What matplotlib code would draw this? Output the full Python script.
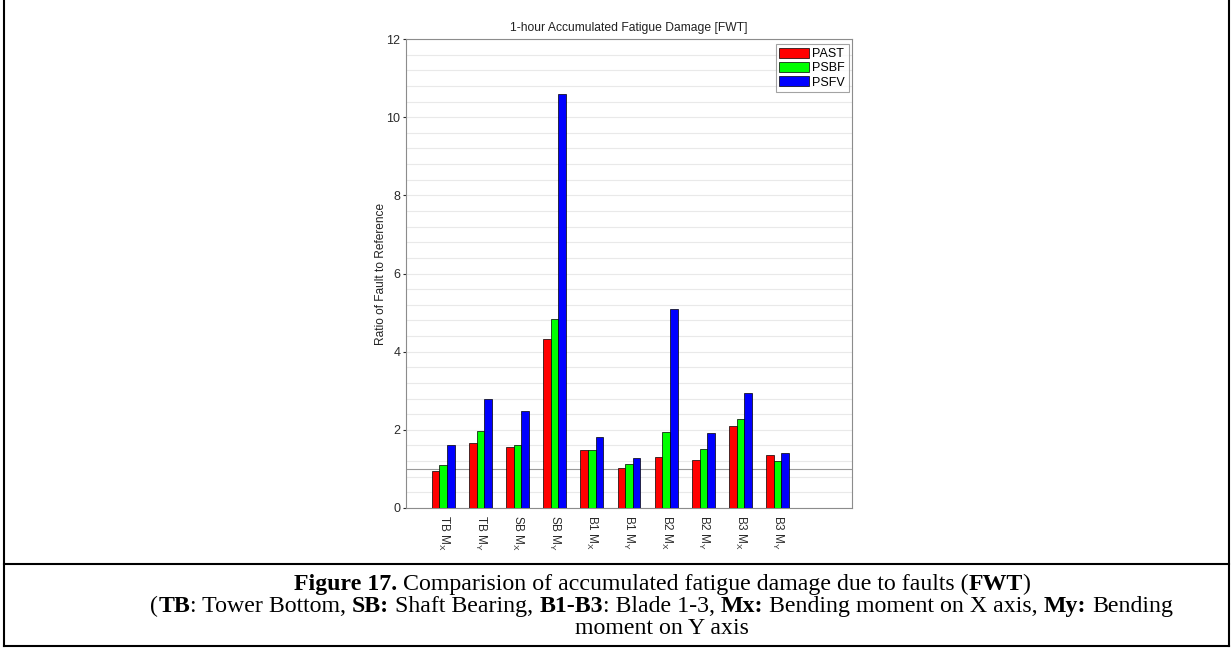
import matplotlib
matplotlib.use("Agg")
import matplotlib.pyplot as plt
import numpy as np
from matplotlib.lines import Line2D
from matplotlib.ticker import MultipleLocator

# ---- data ----
categories = ["TB M$_X$", "TB M$_Y$", "SB M$_X$", "SB M$_Y$", "B1 M$_X$",
              "B1 M$_Y$", "B2 M$_X$", "B2 M$_Y$", "B3 M$_X$", "B3 M$_Y$"]
series_names = ["PAST", "PSBF", "PSFV"]
past = [0.94, 1.67, 1.57, 4.33, 1.49, 1.02, 1.31, 1.24, 2.11, 1.36]
psbf = [1.10, 1.98, 1.60, 4.84, 1.49, 1.13, 1.94, 1.50, 2.27, 1.21]
psfv = [1.61, 2.80, 2.49, 10.58, 1.82, 1.28, 5.10, 1.93, 2.93, 1.42]
y_ticks = [0, 2, 4, 6, 8, 10, 12]
reference_level = 1.0

plt.rcParams["font.family"] = ["Liberation Sans", "DejaVu Sans"]
plt.rcParams["mathtext.default"] = "regular"

W, H = 1232, 648
fig = plt.figure(figsize=(W / 100, H / 100), dpi=100)
fig.patch.set_facecolor("white")

# axes placed in pixel terms
l, r, t, b = 406, 852, 39, 508
ax = fig.add_axes([l / W, 1 - b / H, (r - l) / W, (b - t) / H])

x = np.arange(1, len(categories) + 1)
bw = 0.205
colors = ["#ff0000", "#00ff00", "#0000ff"]
for i, (vals, name, c) in enumerate(zip([past, psbf, psfv], series_names, colors)):
    ax.bar(x + (i - 1) * bw, vals, width=bw, color=c, edgecolor="black",
           linewidth=0.5, label=name, zorder=3)

ax.set_xlim(0, 12)
ax.set_ylim(0, 12)
ax.set_yticks(y_ticks)
ax.yaxis.set_minor_locator(MultipleLocator(0.4))
ax.yaxis.grid(True, which="both", color="#e9e9e9", linewidth=0.8, zorder=0)
ax.set_axisbelow(True)
ax.axhline(reference_level, color="#9a9a9a", linewidth=0.8, zorder=1)

ax.set_xticks(x)
ax.set_xticklabels(categories, rotation=270, fontsize=8.5, va="top", ha="center")
ax.tick_params(axis="x", length=0, pad=5, colors="#2a2a2a")
ax.tick_params(axis="y", which="major", direction="out", length=2, pad=2,
               labelsize=9, colors="#2a2a2a")
ax.tick_params(axis="y", which="minor", length=0)
for s in ax.spines.values():
    s.set_color("#8c8c8c")
    s.set_linewidth(0.8)

ax.set_title("1-hour Accumulated Fatigue Damage [FWT]", fontsize=8.75,
             pad=6, color="#222222")
ax.set_ylabel("Ratio of Fault to Reference", fontsize=8.6, labelpad=-0.5,
              color="#222222")

leg = ax.legend(loc="upper right", bbox_to_anchor=(0.993, 0.989),
                borderaxespad=0, fontsize=9, frameon=True, fancybox=False,
                handlelength=2.4, handleheight=0.85, handletextpad=0.25,
                labelspacing=0.15, borderpad=0.3)
leg.get_frame().set_edgecolor("#8c8c8c")
leg.get_frame().set_linewidth(0.8)

# ---- frame around figure and caption ----
def hline(y0, x0=4, x1=1229):
    fig.add_artist(Line2D([x0 / W, x1 / W], [1 - y0 / H, 1 - y0 / H],
                          color="black", linewidth=1.5, transform=fig.transFigure))

def vline(x0, y0=0, y1=646):
    fig.add_artist(Line2D([x0 / W, x0 / W], [1 - y0 / H, 1 - y1 / H],
                          color="black", linewidth=1.5, transform=fig.transFigure))

vline(4)
vline(1229)
hline(564)
hline(646)

# ---- caption with mixed bold / normal runs ----
cap_size = 17.2
serif = ["Liberation Serif", "DejaVu Serif"]
renderer = fig.canvas.get_renderer()

def ink_width(s, weight):
    t = fig.text(0, 0, s, family=serif, size=cap_size, weight=weight)
    w = t.get_window_extent(renderer).width
    t.remove()
    return w

space_w = {w: ink_width("n n", w) - ink_width("nn", w) for w in ("normal", "bold")}

def run_width(s, weight):
    core = s.strip()
    lead = len(s) - len(s.lstrip())
    trail = len(s) - len(s.rstrip())
    return ink_width(core, weight) + (lead + trail) * space_w[weight]

caption_lines = [
    [("Figure 17.", "bold"), (" Comparision of accumulated fatigue damage due to faults (", "normal"),
     ("FWT", "bold"), (")", "normal")],
    [("(", "normal"), ("TB", "bold"), (": Tower Bottom, ", "normal"), ("SB:", "bold"),
     (" Shaft Bearing, ", "normal"), ("B1-B3", "bold"), (": Blade 1-3, ", "normal"),
     ("Mx:", "bold"), (" Bending moment on X axis, ", "normal"), ("My:", "bold"),
     (" Bending", "normal")],
    [("moment on Y axis", "normal")],
]
line_centers = [582, 604, 626]
cx = 662
for runs, yc in zip(caption_lines, line_centers):
    widths = [run_width(s, w) for s, w in runs]
    xpos = cx - sum(widths) / 2
    for (s, w), wd in zip(runs, widths):
        lead = (len(s) - len(s.lstrip())) * space_w[w]
        fig.text((xpos + lead) / W, 1 - yc / H, s.strip(), family=serif,
                 size=cap_size, weight=w, ha="left", va="center_baseline",
                 color="black")
        xpos += wd

fig.savefig("out.png", dpi=100)
